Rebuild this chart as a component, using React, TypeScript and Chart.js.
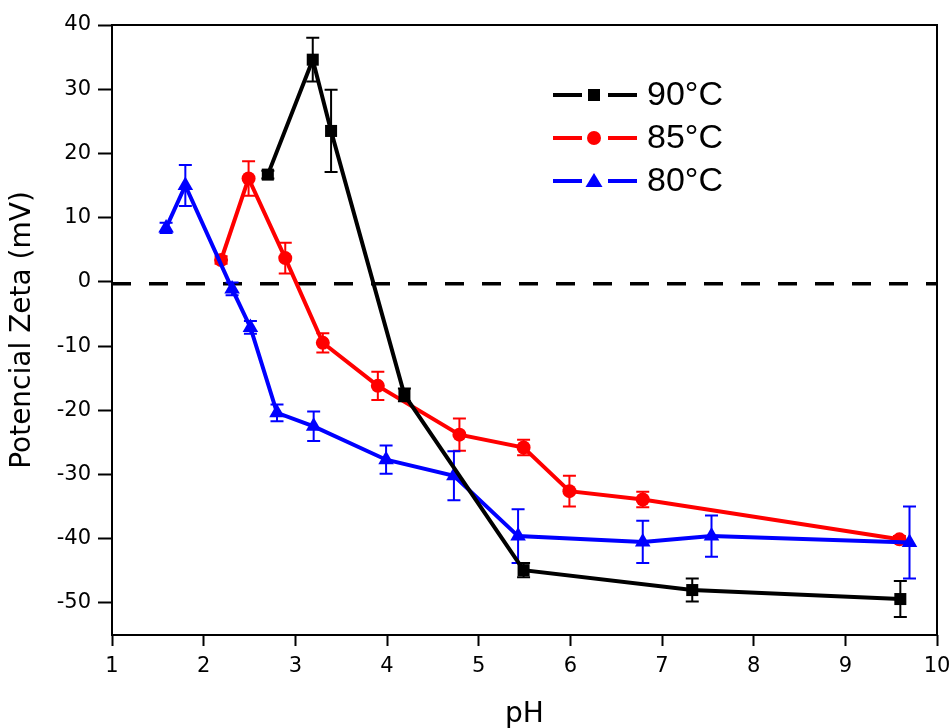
import React, { useEffect, useRef } from "react";
import { Chart, registerables } from "chart.js";

Chart.register(...registerables);

// ---- data ----
const seriesNames = ["90°C", "85°C", "80°C"];
const seriesColors = ["#000000", "#ff0000", "#0000ff"];
const seriesMarkers = ["rect", "circle", "triangle"];

const pH90 = [2.7, 3.19, 3.39, 4.19, 5.49, 7.33, 9.6];
const zeta90 = [16.7, 34.6, 23.5, -17.6, -44.9, -48.0, -49.4];
const err90 = [0.6, 3.4, 6.4, 1.0, 1.1, 1.8, 2.8];

const pH85 = [2.19, 2.49, 2.89, 3.3, 3.9, 4.79, 5.49, 5.99, 6.79, 9.59];
const zeta85 = [3.4, 16.1, 3.7, -9.5, -16.2, -23.8, -25.8, -32.6, -33.9, -40.1];
const err85 = [0.6, 2.7, 2.4, 1.5, 2.2, 2.5, 1.2, 2.4, 1.2, 0.5];

const pH80 = [1.59, 1.8, 2.31, 2.51, 2.8, 3.2, 3.99, 4.73, 5.43, 6.79, 7.54, 9.7];
const zeta80 = [8.4, 15.0, -1.1, -7.1, -20.4, -22.5, -27.7, -30.2, -39.6, -40.5, -39.6, -40.6];
const err80 = [0.8, 3.2, 1.0, 1.0, 1.3, 2.3, 2.2, 3.8, 4.2, 3.3, 3.2, 5.6];

const refLineX = [1, 10];
const refLineY = [-0.3, -0.3];

const xMin = 1;
const xMax = 10;
const yMin = -55;
const yMax = 40;
const xTitle = "pH";
const yTitle = "Potencial Zeta (mV)";

const FONT = "'Liberation Sans', Arial, Helvetica, sans-serif";
const AXFONT = "'DejaVu Sans', 'Liberation Sans', Arial, sans-serif";

const toPoints = (xs: number[], ys: number[]) => xs.map((x, i) => ({ x, y: ys[i] }));

const errorsByDataset: (number[] | null)[] = [null, err90, err85, err80];

const errorBarPlugin = {
  id: "errorBars",
  afterDatasetDraw(chart: any, args: any) {
    const errs = errorsByDataset[args.index];
    if (!errs) return;
    const ds = chart.data.datasets[args.index];
    const xs = chart.scales.x;
    const ys = chart.scales.y;
    const ctx = chart.ctx;
    ctx.save();
    ctx.strokeStyle = ds.borderColor;
    ctx.lineWidth = 2;
    const cap = 6.5;
    ds.data.forEach((p: any, i: number) => {
      const e = errs[i];
      const px = xs.getPixelForValue(p.x);
      const top = ys.getPixelForValue(p.y + e);
      const bot = ys.getPixelForValue(p.y - e);
      ctx.beginPath();
      ctx.moveTo(px, top);
      ctx.lineTo(px, bot);
      ctx.moveTo(px - cap, top);
      ctx.lineTo(px + cap, top);
      ctx.moveTo(px - cap, bot);
      ctx.lineTo(px + cap, bot);
      ctx.stroke();
    });
    ctx.restore();
  },
};

const frameAndLegendPlugin = {
  id: "frameLegend",
  afterDraw(chart: any) {
    const { ctx, chartArea } = chart;
    ctx.save();
    ctx.strokeStyle = "#000";
    ctx.lineWidth = 2;
    ctx.strokeRect(chartArea.left, chartArea.top, chartArea.right - chartArea.left, chartArea.bottom - chartArea.top);

    // legend
    const lx0 = chartArea.left + 441;
    const mx = lx0 + 41;
    seriesNames.forEach((name, i) => {
      const y = chartArea.top + 70 + i * 43;
      const color = seriesColors[i];
      ctx.strokeStyle = color;
      ctx.fillStyle = color;
      ctx.lineWidth = 4;
      ctx.beginPath();
      ctx.moveTo(lx0, y);
      ctx.lineTo(lx0 + 29, y);
      ctx.moveTo(lx0 + 55, y);
      ctx.lineTo(lx0 + 84, y);
      ctx.stroke();
      ctx.beginPath();
      if (seriesMarkers[i] === "rect") {
        ctx.rect(mx - 6, y - 6, 12, 12);
      } else if (seriesMarkers[i] === "circle") {
        ctx.arc(mx, y, 7, 0, Math.PI * 2);
      } else {
        ctx.moveTo(mx, y - 8);
        ctx.lineTo(mx + 8.5, y + 6);
        ctx.lineTo(mx - 8.5, y + 6);
        ctx.closePath();
      }
      ctx.fill();
      ctx.fillStyle = "#000";
      ctx.font = `34px ${FONT}`;
      ctx.textBaseline = "middle";
      ctx.textAlign = "left";
      ctx.fillText(name, lx0 + 94, y + 1);
    });
    ctx.restore();
  },
};

export default function App() {
  const ref = useRef<HTMLCanvasElement | null>(null);

  useEffect(() => {
    if (!ref.current) return;
    const mk = (i: number, xs: number[], ys: number[], order: number, radius: number) => ({
      label: seriesNames[i],
      data: toPoints(xs, ys),
      showLine: true,
      borderColor: seriesColors[i],
      backgroundColor: seriesColors[i],
      borderWidth: 4,
      pointStyle: seriesMarkers[i],
      pointRadius: radius,
      pointBorderWidth: 0,
      pointBackgroundColor: seriesColors[i],
      order,
    });
    const chart = new Chart(ref.current, {
      type: "scatter",
      data: {
        datasets: [
          {
            label: "ref",
            data: toPoints(refLineX, refLineY),
            showLine: true,
            borderColor: "#000",
            borderWidth: 3.5,
            borderDash: [19, 18],
            pointRadius: 0,
            order: 10,
          } as any,
          mk(0, pH90, zeta90, 1, 8.5),
          mk(1, pH85, zeta85, 3, 7),
          mk(2, pH80, zeta80, 2, 9),
        ],
      },
      options: {
        responsive: false,
        devicePixelRatio: 1,
        animation: false,
        layout: { padding: { top: 25, right: 15, left: 0, bottom: 0 } },
        plugins: { legend: { display: false }, tooltip: { enabled: false } },
        scales: {
          x: {
            type: "linear",
            min: xMin,
            max: xMax,
            border: { display: false },
            grid: { display: true, drawOnChartArea: false, drawTicks: true, tickLength: 11, tickWidth: 2, tickColor: "#000" },
            ticks: { stepSize: 1, color: "#000", padding: 8, font: { size: 21, family: AXFONT } },
            title: { display: true, text: xTitle, color: "#000", font: { size: 28, family: AXFONT }, padding: { top: 0, bottom: 8 } },
            afterFit: (s: any) => {
              s.height = 105;
              s.paddingLeft = 0;
              s.paddingRight = 0;
            },
          },
          y: {
            type: "linear",
            min: yMin,
            max: yMax,
            border: { display: false },
            grid: { display: true, drawOnChartArea: false, drawTicks: true, tickLength: 14, tickWidth: 2, tickColor: "#000" },
            ticks: { stepSize: 10, includeBounds: false, color: "#000", padding: 7, font: { size: 21, family: AXFONT } },
            title: { display: true, text: yTitle, color: "#000", font: { size: 28, family: AXFONT }, padding: { top: 6, bottom: 0 } },
            afterFit: (s: any) => {
              s.width = 112;
              s.paddingTop = 0;
              s.paddingBottom = 0;
            },
          },
        },
      },
      plugins: [errorBarPlugin, frameAndLegendPlugin],
    } as any);
    return () => chart.destroy();
  }, []);

  return (
    <div style={{ position: "fixed", left: 0, top: 0, width: 952, height: 740, background: "#fff" }}>
      <canvas ref={ref} width={952} height={740} style={{ display: "block" }} />
    </div>
  );
}
